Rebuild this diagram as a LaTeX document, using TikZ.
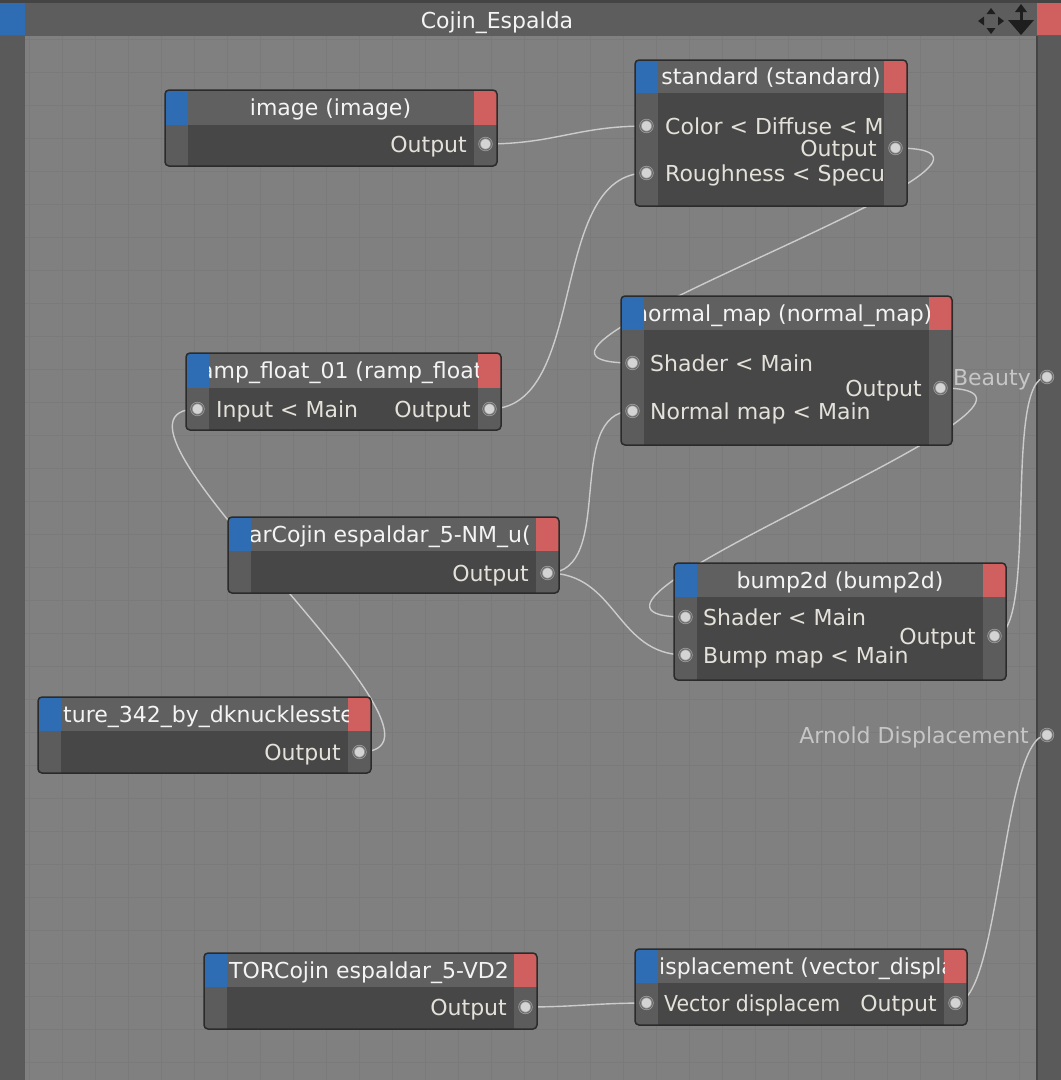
\documentclass[tikz,border=0pt]{standalone}
\usepackage{fontspec}
\setmainfont{DejaVu Sans}
\usetikzlibrary{fit}
\pgfdeclarelayer{back}
\pgfdeclarelayer{wires}
\pgfsetlayers{back,wires,main}
\definecolor{canvasc}{HTML}{808080}
\definecolor{gridc}{HTML}{7A7A7A}
\definecolor{barc}{HTML}{5A5A5A}
\definecolor{topc}{HTML}{5D5D5D}
\definecolor{stripc}{HTML}{444444}
\definecolor{nbodyc}{HTML}{474747}
\definecolor{ncolc}{HTML}{5C5C5C}
\definecolor{nheadc}{HTML}{606060}
\definecolor{nborderc}{HTML}{2B2B2B}
\definecolor{nbluec}{HTML}{2E6DB4}
\definecolor{nredc}{HTML}{D06060}
\definecolor{wirec}{HTML}{CCCCCC}
\definecolor{textc}{HTML}{E4E1DA}
\definecolor{titlec}{HTML}{F4F4F4}
\definecolor{flabc}{HTML}{C6C6C6}
\definecolor{iconc}{HTML}{1E1E1E}
\definecolor{portfc}{HTML}{D4D4D4}
\definecolor{portdc}{HTML}{A0A0A0}
\definecolor{portgc}{HTML}{6A6A6A}
\tikzset{
  x=1pt, y=-1pt,
  nframe/.style={draw=nborderc, line width=1.5pt, rounded corners=4pt, inner sep=0pt, rectangle},
  txt/.style={inner sep=0pt, text height=16pt, text depth=0pt, font=\fontsize{22}{26}\selectfont},
  lbl/.style={txt, text=textc},
  ttl/.style={txt, text=titlec},
  flab/.style={txt, text=flabc, anchor=east},
  port/.style={circle, inner sep=0pt, minimum size=12pt, fill=portfc, draw=portdc, double=portgc, line width=0.7pt, double distance=0.9pt},
  wire/.style={draw=wirec, line width=1.4pt},
  gridl/.style={draw=gridc, line width=1pt}
}
\newcommand{\gnode}[6]{%
  \begin{scope}
    \clip[rounded corners=4pt] (#2,#3) rectangle (#4,#5);
    \fill[nbodyc] (#2,#3) rectangle (#4,#5);
    \fill[ncolc] (#2,#3) rectangle (#2+23,#5);
    \fill[ncolc] (#4-23,#3) rectangle (#4,#5);
    \fill[nheadc] (#2,#3) rectangle (#4,#6);
    \fill[nbluec] (#2,#3) rectangle (#2+23,#6);
    \fill[nredc] (#4-23,#3) rectangle (#4,#6);
  \end{scope}
  \node[nframe, fit={(#2,#3) (#4,#5)}] (#1) {};
}
\newcommand{\gtitle}[8]{%
  \begin{scope}
    \clip (#2+23,#3) rectangle (#4-23,#5);
    \node[ttl, anchor=#7] (#1) at (#6,{(#3+#5)/2}) {#8};
  \end{scope}
}
\newcommand{\clbl}[5]{%
  \begin{scope}
    \clip (#2-5,#3-16) rectangle (#4,#3+16);
    \node[lbl, anchor=west] (#1) at (#2,#3) {#5};
  \end{scope}
}
\begin{document}
\begin{tikzpicture}
\useasboundingbox (0,0) rectangle (1061,1080);
\begin{pgfonlayer}{back}
  \fill[canvasc] (25,36) rectangle (1037,1080);
  \foreach \gx in {29,62,...,1036} \draw[gridl] (\gx,36) -- (\gx,1080);
  \foreach \gy in {39,72,...,1080} \draw[gridl] (25,\gy) -- (1037,\gy);
  \fill[barc] (0,0) rectangle (25,1080);
  \fill[barc] (1037,0) rectangle (1061,1080);
  \fill[stripc] (1036,36) rectangle (1038,1080);
  \fill[topc] (0,0) rectangle (1061,36);
  \fill[stripc] (0,0) rectangle (1061,3);
  \fill[nbluec] (0,3) rectangle (25,35);
  \fill[nredc] (1037,3) rectangle (1061,35);
\end{pgfonlayer}

\node[ttl] (frametitle) at (497,20) {Cojin\_Espalda};
% icons
\fill[iconc] (991,8) -- (986.5,14) -- (995.5,14) -- cycle;
\fill[iconc] (991,34) -- (986.5,28) -- (995.5,28) -- cycle;
\fill[iconc] (978,21) -- (984,16.5) -- (984,25.5) -- cycle;
\fill[iconc] (1004,21) -- (998,16.5) -- (998,25.5) -- cycle;
\fill[iconc] (1021,4) -- (1015,12) -- (1027,12) -- cycle;
\fill[iconc] (1019.5,11) rectangle (1022.5,22);
\fill[iconc] (1008,20) -- (1034,20) -- (1021,35) -- cycle;

% image
\gnode{img}{165}{90}{497}{166}{125}
\gtitle{imgT}{165}{90}{497}{125}{330.5}{center}{image (image)}
\node[lbl, anchor=east] (imgOL) at (467,144) {Output};
\node[port] (imgO) at (485.5,144) {};

% standard
\gnode{std}{635}{60}{907}{206}{93}
\gtitle{stdT}{635}{60}{907}{93}{771}{center}{standard (standard)}
\clbl{stdCL}{665}{126}{884}{Color < Diffuse < M}
\clbl{stdRL}{665}{173}{884}{Roughness < Specu}
\node[lbl, anchor=east] (stdOL) at (877,148) {Output};
\node[port] (stdC) at (646.5,126) {};
\node[port] (stdR) at (646.5,173) {};
\node[port] (stdO) at (895.5,148) {};

% normal_map
\gnode{nm}{621}{296}{952}{445}{330}
\gtitle{nmT}{621}{296}{952}{330}{634}{west}{normal\_map (normal\_map)}
\node[lbl, anchor=west] (nmSL) at (650,363) {Shader < Main};
\node[lbl, anchor=west] (nmNL) at (650,411) {Normal map < Main};
\node[lbl, anchor=east] (nmOL) at (922,388) {Output};
\node[port] (nmS) at (632.5,363) {};
\node[port] (nmN) at (632.5,411) {};
\node[port] (nmO) at (940.5,388) {};

% ramp_float
\gnode{ramp}{186}{353}{501}{430}{388}
\gtitle{rampT}{186}{353}{501}{388}{200}{west}{amp\_float\_01 (ramp\_float}
\node[lbl, anchor=west] (rampIL) at (216,409) {Input < Main};
\node[lbl, anchor=east] (rampOL) at (471,409) {Output};
\node[port] (rampI) at (197.5,409) {};
\node[port] (rampO) at (489.5,409) {};

% arCojin
\gnode{arc}{228}{517}{559}{593}{551}
\gtitle{arcT}{228}{517}{559}{551}{249}{west}{arCojin espaldar\_5-NM\_u(}
\node[lbl, anchor=east] (arcOL) at (529,573) {Output};
\node[port] (arcO) at (547.5,573) {};

% bump2d
\gnode{bump}{674}{563}{1006}{680}{597}
\gtitle{bumpT}{674}{563}{1006}{597}{840}{center}{bump2d (bump2d)}
\node[lbl, anchor=west] (bumpSL) at (703,617) {Shader < Main};
\node[lbl, anchor=west] (bumpBL) at (703,655) {Bump map < Main};
\node[lbl, anchor=east] (bumpOL) at (976,636) {Output};
\node[port] (bumpS) at (685.5,617) {};
\node[port] (bumpB) at (685.5,655) {};
\node[port] (bumpO) at (994.5,636) {};

% ture
\gnode{ture}{38}{697}{371}{773}{731}
\gtitle{tureT}{38}{697}{371}{731}{63}{west}{ture\_342\_by\_dknucklesste}
\node[lbl, anchor=east] (tureOL) at (341,752) {Output};
\node[port] (tureO) at (359.5,752) {};

% TOR
\gnode{tor}{204}{953}{537}{1029}{987}
\gtitle{torT}{204}{953}{537}{987}{229}{west}{TORCojin espaldar\_5-VD2}
\node[lbl, anchor=east] (torOL) at (507,1007) {Output};
\node[port] (torO) at (525.5,1007) {};

% vector displacement
\gnode{vd}{635}{949}{967}{1025}{983}
\gtitle{vdT}{635}{949}{967}{983}{659}{west}{isplacement (vector\_displa}
\clbl{vdIL}{664}{1003}{857}{\scalebox{0.93}[1]{Vector displacem}}
\node[lbl, anchor=east] (vdOL) at (937,1003) {Output};
\node[port] (vdI) at (646.5,1003) {};
\node[port] (vdO) at (955.5,1003) {};

% frame ports
\node[flab] (beautyL) at (1031,377) {Beauty};
\node[port] (beauty) at (1047,377) {};
\node[flab] (arnoldL) at (1029,735) {Arnold Displacement};
\node[port] (arnold) at (1047,735) {};

\begin{pgfonlayer}{wires}
  \draw[wire] (imgO.center) .. controls +(70,0) and +(-70,0) .. (stdC.center);
  \draw[wire] (rampO.center) .. controls +(100,0) and +(-100,0) .. (stdR.center);
  \draw[wire] (stdO.center) .. controls +(200,0) and +(-200,0) .. (nmS.center);
  \draw[wire] (tureO.center) .. controls +(130,0) and +(-130,0) .. (rampI.center);
  \draw[wire] (arcO.center) .. controls +(70,0) and +(-70,0) .. (nmN.center);
  \draw[wire] (arcO.center) .. controls +(70,0) and +(-70,0) .. (bumpB.center);
  \draw[wire] (nmO.center) .. controls +(190,0) and +(-190,0) .. (bumpS.center);
  \draw[wire] (bumpO.center) .. controls +(45,0) and +(-45,0) .. (beauty.center);
  \draw[wire] (vdO.center) .. controls +(45,0) and +(-45,0) .. (arnold.center);
  \draw[wire] (torO.center) .. controls +(50,0) and +(-50,0) .. (vdI.center);
\end{pgfonlayer}
\end{tikzpicture}
\end{document}
